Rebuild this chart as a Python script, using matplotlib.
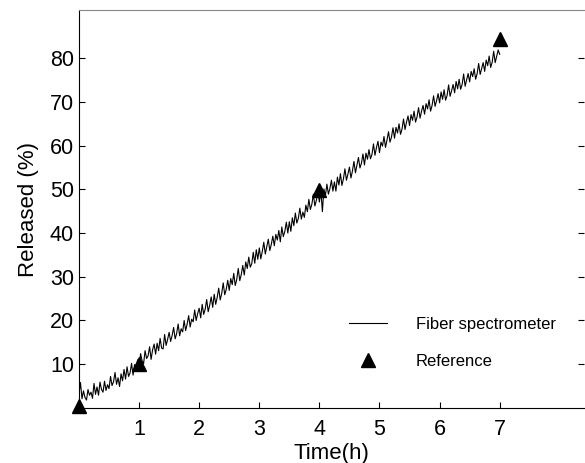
import numpy as np
import matplotlib
matplotlib.use("Agg")
import matplotlib.pyplot as plt

plt.rcParams['font.family'] = ['Liberation Sans', 'DejaVu Sans']

# fiber spectrometer signal (one value every 0.025 h)
released = [
    3.2, 5.8, 2.1, 3.9, 2.4, 1.8, 4.2, 2.9, 3.6, 2.2,
    5.6, 3.1, 4.8, 2.9, 5.9, 4.2, 3.6, 6.1, 4.0, 5.3,
    4.4, 7.2, 5.1, 6.0, 8.1, 5.4, 6.9, 4.9, 7.8, 6.2,
    8.8, 6.6, 9.4, 7.2, 8.0, 10.2, 7.5, 9.9, 8.3, 11.0,
    9.4, 12.4, 10.8, 10.1, 13.1, 11.3, 11.9, 14.0, 11.1, 13.3,
    14.6, 12.3, 14.8, 13.1, 15.9, 13.7, 13.5, 16.8, 14.3, 15.7,
    17.3, 15.2, 16.6, 18.4, 15.8, 17.0, 19.2, 16.5, 18.1, 17.4,
    20.0, 17.7, 19.2, 21.1, 18.5, 20.3, 19.7, 22.4, 20.0, 21.6,
    22.8, 20.6, 23.7, 21.4, 22.6, 24.8, 22.0, 23.5, 25.4, 23.0,
    26.0, 23.7, 25.3, 27.4, 24.7, 26.2, 28.6, 25.9, 27.1, 29.2,
    26.9, 29.6, 28.2, 30.8, 28.0, 29.4, 31.9, 29.1, 30.5, 32.6,
    30.4, 33.4, 31.9, 34.5, 32.2, 33.0, 35.6, 33.1, 36.2, 34.0,
    36.6, 34.1, 35.8, 37.9, 35.2, 36.9, 38.6, 36.0, 37.4, 39.3,
    37.1, 39.7, 38.4, 40.6, 38.0, 41.4, 39.2, 40.4, 42.5, 40.0,
    42.6, 40.4, 43.5, 41.7, 44.6, 42.3, 43.4, 45.7, 43.2, 44.8,
    43.6, 46.4, 44.9, 47.7, 45.4, 46.6, 48.9, 46.2, 47.5, 49.4,
    47.1, 49.7, 44.9, 50.1, 48.5, 51.2, 48.9, 50.2, 52.1, 49.6,
    51.7, 49.6, 52.8, 51.0, 53.6, 50.9, 52.4, 54.7, 52.1, 53.5,
    55.1, 52.6, 54.2, 56.4, 53.8, 55.5, 57.3, 54.9, 56.0, 58.1,
    55.6, 58.3, 56.9, 59.1, 57.0, 58.0, 60.4, 57.8, 59.6, 61.0,
    58.4, 60.8, 59.9, 62.1, 59.6, 61.3, 63.2, 60.8, 62.0, 64.1,
    61.7, 64.2, 62.9, 65.0, 62.6, 63.8, 66.1, 63.7, 65.4, 66.8,
    64.6, 67.1, 65.8, 67.9, 65.4, 66.6, 68.7, 66.3, 67.9, 69.2,
    67.2, 69.6, 68.4, 70.5, 67.9, 69.2, 71.4, 69.0, 70.3, 71.9,
    69.8, 72.3, 70.6, 72.8, 70.4, 71.5, 73.9, 71.3, 72.6, 74.0,
    72.1, 74.7, 73.0, 75.2, 72.9, 74.0, 76.4, 73.6, 75.1, 76.5,
    74.6, 77.0, 75.8, 77.6, 75.2, 76.5, 78.8, 76.3, 77.7, 79.0,
    77.0, 79.6, 78.3, 80.5, 77.9, 79.1, 81.6, 79.0, 80.4, 81.9,
    80.9,
]
time_h = np.arange(len(released)) * 0.025

# reference method
ref_time = [0, 1, 4, 7]
ref_released = [0.5, 10.0, 49.8, 84.5]

xticks = [1, 2, 3, 4, 5, 6, 7]
yticks = [10, 20, 30, 40, 50, 60, 70, 80]

fig = plt.figure(figsize=(5.85, 4.63), dpi=100)
ax = fig.add_axes([0.135, 0.119, 0.863, 0.859])

ax.plot(time_h, released, color='black', linewidth=0.8, label='Fiber spectrometer')
ax.plot(ref_time, ref_released, linestyle='none', marker='^', markersize=10.5,
        color='black', label='Reference', clip_on=False, zorder=5)

ax.set_xlim(0, 8.4)
ax.set_ylim(0, 91)
ax.set_xticks(xticks)
ax.set_yticks(yticks)
ax.tick_params(direction='in', length=4, labelsize=15.5, right=True, top=False)
ax.tick_params(axis='x', pad=8)

ax.spines['right'].set_visible(False)
ax.spines['top'].set_color('#888888')
ax.spines['top'].set_linewidth(0.8)

ax.set_xlabel('Time(h)', fontsize=16, labelpad=2)
ax.set_ylabel('Released (%)', fontsize=16, labelpad=8)

ax.legend(loc='upper left', bbox_to_anchor=(0.535, 0.228), frameon=False,
          fontsize=12, handlelength=2.3, handletextpad=1.7, labelspacing=1.3,
          borderpad=0, borderaxespad=0)

plt.savefig('out.png', dpi=100)
